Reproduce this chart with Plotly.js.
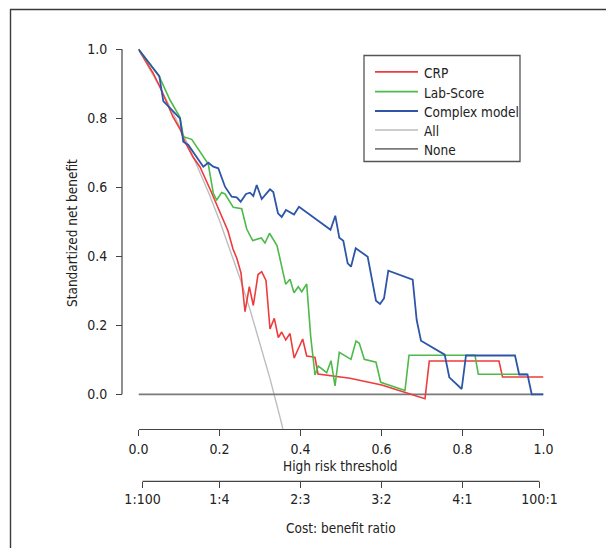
<!DOCTYPE html>
<html>
<head>
<meta charset="utf-8">
<script src="https://cdn.plot.ly/plotly-3.0.1.min.js"></script>
<style>html,body{margin:0;padding:0;background:#fff;}#chart{width:606px;height:548px;}</style>
</head>
<body>
<div id="chart"></div>
<script>
// ---- data ----
const crpX = [0, 0.0358, 0.0531, 0.0704, 0.0852, 0.1025, 0.1148, 0.1346, 0.1519, 0.1765, 0.1889, 0.2086, 0.2210, 0.2333, 0.2425, 0.2531, 0.2630, 0.2736, 0.2835, 0.2951, 0.3042, 0.3148, 0.3247, 0.3353, 0.3452, 0.3536, 0.3635, 0.3741, 0.3844, 0.4054, 0.4153, 0.4284, 0.4358, 0.4432, 0.5222, 0.6005, 0.7074, 0.7180, 0.8901, 0.8988, 1.0];
const crpY = [1.0, 0.9313, 0.8907, 0.8443, 0.8038, 0.7690, 0.7313, 0.6878, 0.6588, 0.5951, 0.5603, 0.5052, 0.4733, 0.4212, 0.3951, 0.3516, 0.2394, 0.3119, 0.2574, 0.3472, 0.3554, 0.3299, 0.1893, 0.2203, 0.1646, 0.1806, 0.1574, 0.1762, 0.1052, 0.1603, 0.1110, 0.1090, 0.1067, 0.0588, 0.0464, 0.0270, -0.0130, 0.0965, 0.0965, 0.0501, 0.0501];

const labX = [0, 0.0514, 0.0778, 0.1025, 0.1106, 0.1314, 0.1723, 0.1847, 0.1931, 0.2054, 0.2136, 0.2341, 0.2548, 0.2672, 0.2820, 0.3032, 0.3123, 0.3235, 0.3420, 0.3536, 0.3635, 0.3741, 0.3840, 0.3946, 0.4030, 0.4153, 0.4252, 0.4358, 0.4440, 0.4647, 0.4753, 0.4852, 0.4958, 0.5247, 0.5370, 0.5452, 0.5575, 0.5864, 0.5980, 0.6580, 0.6679, 0.8309, 0.8390, 0.9593];
const labY = [1.0, 0.9206, 0.8530, 0.8029, 0.7467, 0.7391, 0.6675, 0.5826, 0.5632, 0.5849, 0.5806, 0.5420, 0.5377, 0.4791, 0.4458, 0.4530, 0.4386, 0.4667, 0.4313, 0.3699, 0.3188, 0.3333, 0.2945, 0.3119, 0.2974, 0.3197, 0.1670, 0.0559, 0.0820, 0.0626, 0.0974, 0.0241, 0.1217, 0.1014, 0.1545, 0.1478, 0.1014, 0.0928, 0.0348, 0.0110, 0.1130, 0.1130, 0.0580, 0.0580];

const cmpX = [0, 0.0514, 0.0612, 0.1025, 0.1106, 0.1230, 0.1600, 0.1723, 0.1847, 0.1970, 0.2136, 0.2301, 0.2425, 0.2523, 0.2654, 0.2753, 0.2835, 0.2919, 0.3042, 0.3247, 0.3328, 0.3444, 0.3536, 0.3642, 0.3840, 0.3963, 0.4741, 0.4859, 0.4958, 0.5057, 0.5165, 0.5247, 0.5363, 0.5659, 0.5864, 0.5963, 0.6062, 0.6168, 0.6770, 0.6869, 0.6975, 0.7560, 0.7674, 0.7980, 0.8086, 0.9296, 0.9400, 0.9605, 0.9709, 1.0];
const cmpY = [1.0, 0.9226, 0.8501, 0.8000, 0.7322, 0.7226, 0.6597, 0.6713, 0.6597, 0.6551, 0.6017, 0.5728, 0.5710, 0.5583, 0.5806, 0.5843, 0.5748, 0.6067, 0.5661, 0.5942, 0.5864, 0.5246, 0.5139, 0.5342, 0.5212, 0.5438, 0.4771, 0.5177, 0.4539, 0.4452, 0.3797, 0.3699, 0.4232, 0.3988, 0.2713, 0.2617, 0.2783, 0.3583, 0.3322, 0.2154, 0.1554, 0.1148, 0.0493, 0.0154, 0.1125, 0.1125, 0.0574, 0.0574, 0.0, 0.0];

const allX = [0, 0.025, 0.05, 0.075, 0.1, 0.125, 0.15, 0.175, 0.2, 0.225, 0.25, 0.275, 0.3, 0.325, 0.35, 0.36];
const allY = [1.0, 0.949, 0.896, 0.839, 0.780, 0.716, 0.650, 0.579, 0.504, 0.424, 0.338, 0.247, 0.149, 0.044, -0.069, -0.117];

const noneX = [0, 1];
const noneY = [0, 0];

const seriesNames = ['CRP', 'Lab-Score', 'Complex model', 'All', 'None'];
const thrTicks = [0, 0.2, 0.4, 0.6, 0.8, 1.0];
const thrLabels = ['0.0', '0.2', '0.4', '0.6', '0.8', '1.0'];
const cbTicks = [1/101, 0.2, 0.4, 0.6, 0.8, 100/101];
const cbLabels = ['1:100', '1:4', '2:3', '3:2', '4:1', '100:1'];
const yTicks = [0, 0.2, 0.4, 0.6, 0.8, 1.0];
const yLabels = ['0.0', '0.2', '0.4', '0.6', '0.8', '1.0'];

// ---- styles ----
const FONT = '"DejaVu Sans Condensed", "Liberation Sans Narrow", "Liberation Sans", sans-serif';
const TXT = '#222';
const colors = {'CRP':'#ef3b3b', 'Lab-Score':'#4dba4a', 'Complex model':'#2d56a8', 'All':'#bdbdbd', 'None':'#7a7a7a'};
const AX = '#444';

// ---- geometry helpers (pixel -> paper) ----
const W = 606, H = 548, ML = 100, MR = 20, MT = 40, MB = 10;
const PW = W - ML - MR, PH = H - MT - MB;
const px = v => (v - ML) / PW;
const py = v => (H - MB - v) / PH;

const traces = [
  {x: allX, y: allY, name: 'All', mode: 'lines', line: {color: colors['All'], width: 1.4}, hoverinfo: 'skip'},
  {x: noneX, y: noneY, name: 'None', mode: 'lines', line: {color: colors['None'], width: 1.8}, hoverinfo: 'skip'},
  {x: crpX, y: crpY, name: 'CRP', mode: 'lines', line: {color: colors['CRP'], width: 1.6}, hoverinfo: 'skip'},
  {x: labX, y: labY, name: 'Lab-Score', mode: 'lines', line: {color: colors['Lab-Score'], width: 1.6}, hoverinfo: 'skip'},
  {x: cmpX, y: cmpY, name: 'Complex model', mode: 'lines', line: {color: colors['Complex model'], width: 1.8}, hoverinfo: 'skip'},
  {x: cbTicks, y: cbTicks.map(() => 0), xaxis: 'x2', yaxis: 'y', mode: 'markers', marker: {opacity: 0, size: 1}, hoverinfo: 'skip', showlegend: false}
];

const shapes = [];
const annotations = [];
// outer frame (left and top)
shapes.push({type: 'line', xref: 'paper', yref: 'paper', x0: px(10.5), x1: px(10.5), y0: py(560), y1: py(9.5), line: {color: '#3a3a3a', width: 1.4}});
shapes.push({type: 'line', xref: 'paper', yref: 'paper', x0: px(10), x1: px(620), y0: py(9.5), y1: py(9.5), line: {color: '#3a3a3a', width: 1.4}});
// y axis line (0..1)
shapes.push({type: 'line', xref: 'paper', yref: 'y', x0: px(122), x1: px(122), y0: 0, y1: 1, line: {color: AX, width: 1.2}});
// cost:benefit axis line
shapes.push({type: 'line', xref: 'x', yref: 'paper', x0: cbTicks[0], x1: cbTicks[cbTicks.length - 1], y0: py(481.4), y1: py(481.4), line: {color: AX, width: 1.2}});

// legend box
shapes.push({type: 'rect', xref: 'paper', yref: 'paper', x0: px(364), x1: px(520), y0: py(55.5), y1: py(161.5), line: {color: '#555', width: 1.3}, fillcolor: 'rgba(255,255,255,0)'});
const legY = [71.8, 91.6, 111, 130, 148.8];
seriesNames.forEach((n, i) => {
  shapes.push({type: 'line', xref: 'paper', yref: 'paper', x0: px(375), x1: px(418), y0: py(legY[i]), y1: py(legY[i]), line: {color: colors[n], width: n === 'All' ? 1.4 : 1.8}});
  annotations.push({xref: 'paper', yref: 'paper', x: px(422), y: py(legY[i] + 1), xanchor: 'left', yanchor: 'middle', text: n, showarrow: false, font: {family: FONT, size: 13.5, color: TXT}});
});

// axis titles
annotations.push({xref: 'paper', yref: 'paper', x: px(340.5), y: py(465.5), xanchor: 'center', yanchor: 'middle', text: 'High risk threshold', showarrow: false, font: {family: FONT, size: 13.5, color: TXT}});
annotations.push({xref: 'paper', yref: 'paper', x: px(340.5), y: py(528), xanchor: 'center', yanchor: 'middle', text: 'Cost: benefit ratio', showarrow: false, font: {family: FONT, size: 13.5, color: TXT}});
annotations.push({xref: 'paper', yref: 'paper', x: px(72), y: py(233), xanchor: 'center', yanchor: 'middle', textangle: -90, text: 'Standartized net benefit', showarrow: false, font: {family: FONT, size: 13.5, color: TXT}});

const xDom = [px(138.5), px(543.5)];
const layout = {
  width: W, height: H,
  margin: {l: ML, r: MR, t: MT, b: MB, pad: 0},
  paper_bgcolor: '#fff', plot_bgcolor: 'rgba(0,0,0,0)',
  showlegend: false,
  font: {family: FONT, size: 14, color: TXT},
  xaxis: {domain: xDom, range: [0, 1], anchor: 'y', showline: true, linecolor: AX, linewidth: 1.2,
          ticks: 'outside', ticklen: 6, tickwidth: 1.2, tickcolor: AX,
          tickvals: thrTicks, ticktext: thrLabels, showgrid: false, zeroline: false, ticklabelstandoff: 1,
          tickfont: {family: FONT, size: 14, color: TXT}},
  xaxis2: {overlaying: 'x', anchor: 'free', position: py(481.4), side: 'bottom', range: [0, 1],
           showline: false, ticks: 'outside', ticklen: 6, tickwidth: 1.2, tickcolor: AX,
           tickvals: cbTicks, ticktext: cbLabels, showgrid: false, zeroline: false, ticklabelstandoff: -1,
           tickfont: {family: FONT, size: 14, color: TXT}},
  yaxis: {domain: [py(428.8), py(45.85)], range: [-0.1, 1.01], anchor: 'free', position: px(122),
          showline: false, ticks: 'outside', ticklen: 6, tickwidth: 1.2, tickcolor: AX,
          tickvals: yTicks, ticktext: yLabels, showgrid: false, zeroline: false, ticklabelstandoff: 6,
          tickfont: {family: FONT, size: 14, color: TXT}},
  shapes: shapes,
  annotations: annotations
};

Plotly.newPlot('chart', traces, layout, {displayModeBar: false, staticPlot: true});
</script>
</body>
</html>
